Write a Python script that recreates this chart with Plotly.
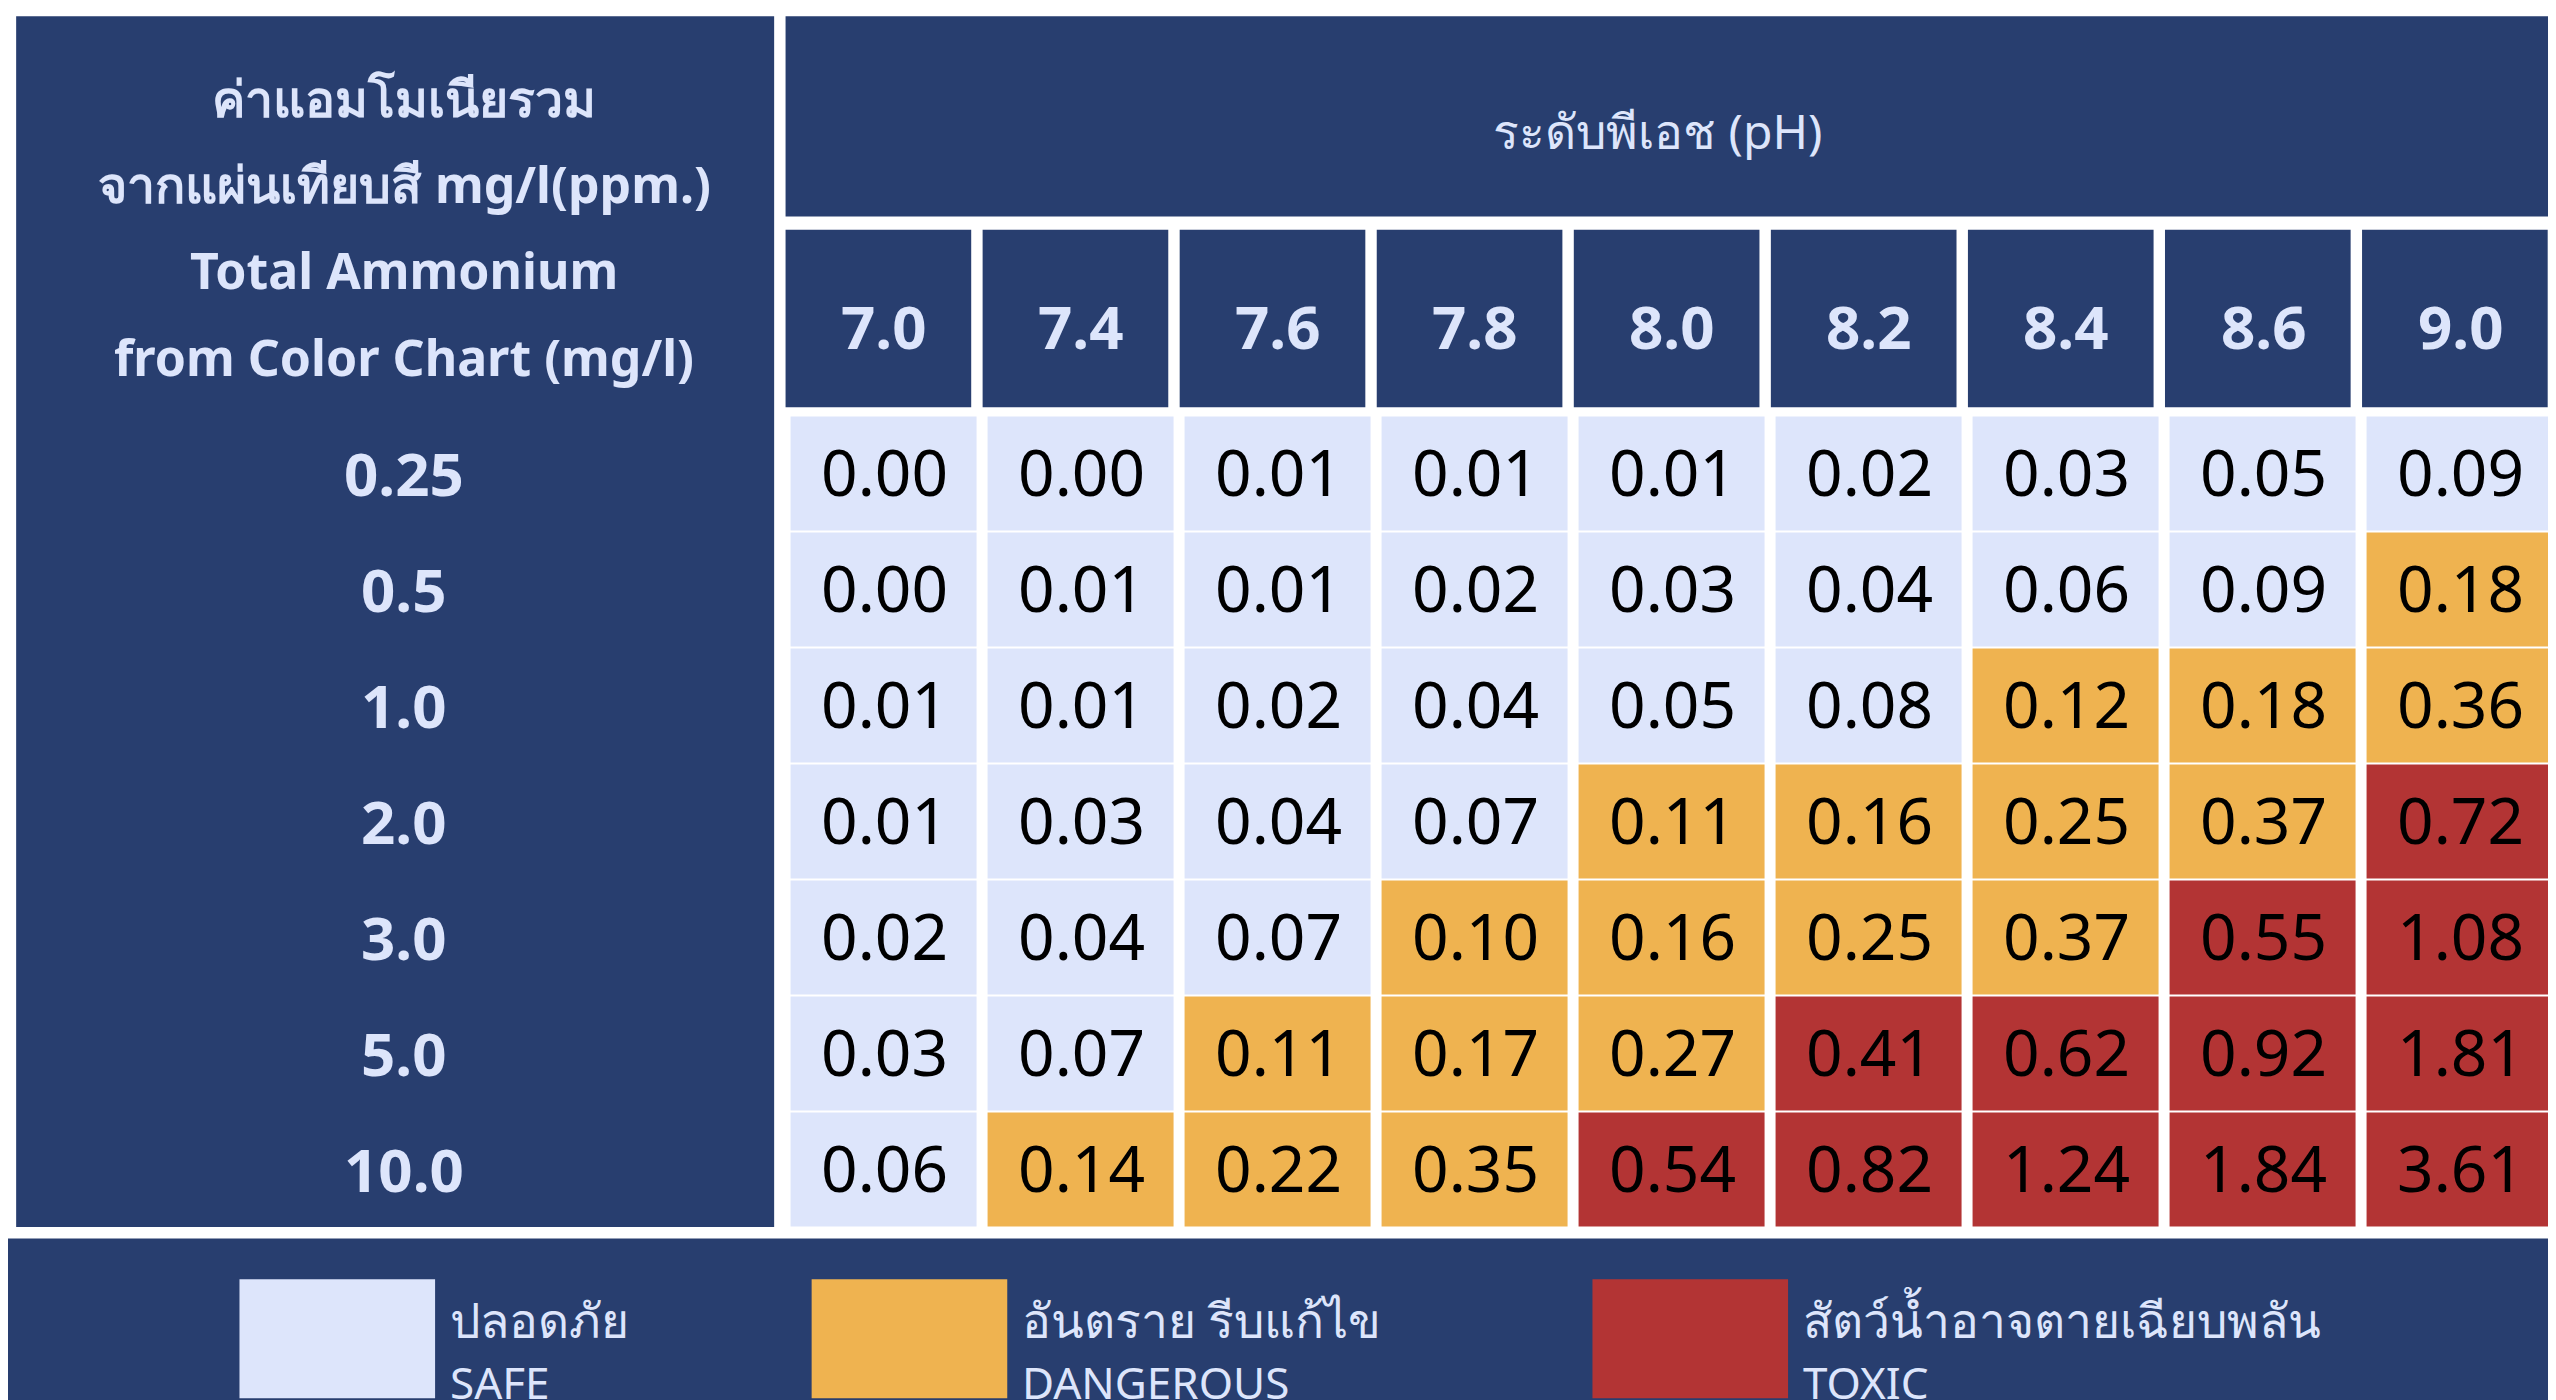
import plotly.graph_objects as go

ph_labels = ["7.0", "7.4", "7.6", "7.8", "8.0", "8.2", "8.4", "8.6", "9.0"]
ammonium_labels = ["0.25", "0.5", "1.0", "2.0", "3.0", "5.0", "10.0"]
values = [
    [0.00, 0.00, 0.01, 0.01, 0.01, 0.02, 0.03, 0.05, 0.09],
    [0.00, 0.01, 0.01, 0.02, 0.03, 0.04, 0.06, 0.09, 0.18],
    [0.01, 0.01, 0.02, 0.04, 0.05, 0.08, 0.12, 0.18, 0.36],
    [0.01, 0.03, 0.04, 0.07, 0.11, 0.16, 0.25, 0.37, 0.72],
    [0.02, 0.04, 0.07, 0.10, 0.16, 0.25, 0.37, 0.55, 1.08],
    [0.03, 0.07, 0.11, 0.17, 0.27, 0.41, 0.62, 0.92, 1.81],
    [0.06, 0.14, 0.22, 0.35, 0.54, 0.82, 1.24, 1.84, 3.61],
]
legend_th = ["ปลอดภัย", "อันตราย รีบแก้ไข", "สัตว์น้ำอาจตายเฉียบพลัน"]
legend_en = ["SAFE", "DANGEROUS", "TOXIC"]

NAVY = "#283e6f"
LIGHT = "#dde5fb"
colors = [LIGHT, "#efb350", "#b33434"]
FONT = "Noto Sans, Tahoma, sans-serif"

W, H = 1568, 859  # design units, scaled to window
def px(x): return x / W
def py(y): return 1 - y / H

cats = [[0 if v < 0.1 else (1 if v < 0.4 else 2) for v in row] for row in values]
text = [[f"{v:.2f}" for v in row] for row in values]

fig = go.Figure(go.Heatmap(
    z=cats, text=text, texttemplate="%{text}",
    textfont=dict(size=64, color="black", family=FONT),
    x=list(range(len(ph_labels))), y=list(range(len(ammonium_labels))),
    colorscale=[[0, colors[0]], [0.333, colors[0]], [0.333, colors[1]],
                [0.666, colors[1]], [0.666, colors[2]], [1, colors[2]]],
    zmin=0, zmax=2, showscale=False, xgap=11, ygap=2, hoverinfo="skip"))

shapes = []
def rect(x0, y0, x1, y1, color):
    shapes.append(dict(type="rect", xref="paper", yref="paper", x0=px(x0), x1=px(x1),
                       y0=py(y1), y1=py(y0), fillcolor=color, line_width=0, layer="below"))

rect(5, 5, 470, 748, NAVY)
rect(477, 5, 1563, 128, NAVY)
rect(0, 755, 1568, 859, NAVY)
col_w = (1565 - 477) / len(ph_labels)
for i in range(len(ph_labels)):
    rect(477 + i * col_w, 136, 477 + (i + 1) * col_w - 7, 245, NAVY)

ann = []
def label(x, y, t, size, xref="paper", yref="paper", xanchor="center", bold=True):
    ann.append(dict(x=x, y=y, xref=xref, yref=yref, text=f"<b>{t}</b>" if bold else t,
                    showarrow=False, xanchor=xanchor, yanchor="middle",
                    font=dict(size=size, color=LIGHT, family=FONT)))

for i, t in enumerate(["ค่าแอมโมเนียรวม", "จากแผ่นเทียบสี mg/l(ppm.)",
                       "Total Ammonium", "from Color Chart (mg/l)"]):
    label(px(243), py(55 + i * 53), t, 50)
label(px(1012), py(75), "ระดับพีเอช (pH)", 48, bold=False)
for i, t in enumerate(ph_labels):
    label(i, py(195), t, 60, xref="x")
for j, t in enumerate(ammonium_labels):
    label(px(243), j, t, 60, yref="y")
for k, x0 in enumerate([142, 493, 972]):
    shapes.append(dict(type="rect", xref="paper", yref="paper", x0=px(x0), x1=px(x0 + 120),
                       y0=py(853), y1=py(780), fillcolor=colors[k], line_width=0))
    label(px(x0 + 128), py(805), legend_th[k], 48, xanchor="left", bold=False)
    label(px(x0 + 128), py(843), legend_en[k], 44, xanchor="left", bold=False)

fig.update_layout(
    width=2556, height=1400, margin=dict(l=0, r=0, t=0, b=0),
    paper_bgcolor="white", plot_bgcolor="white", shapes=shapes, annotations=ann,
    xaxis=dict(domain=[px(477), px(1565)], visible=False, range=[-0.5, 8.5]),
    yaxis=dict(domain=[py(748), py(250)], visible=False, range=[6.5, -0.5]),
)
fig.write_html("out.html")
